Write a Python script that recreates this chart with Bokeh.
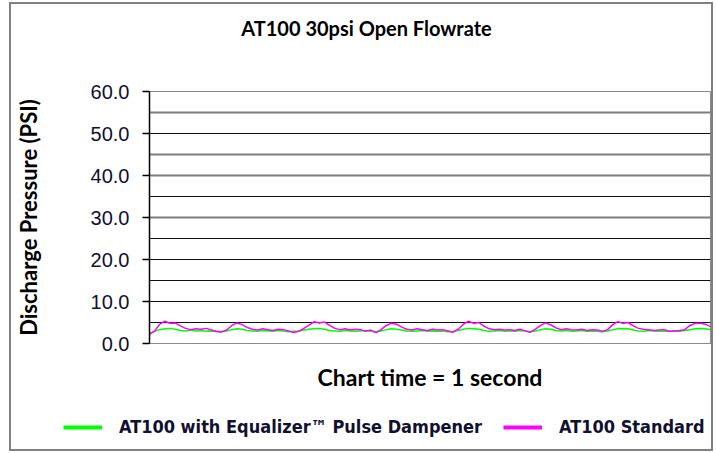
from bokeh.plotting import figure
from bokeh.layouts import column
from bokeh.models import (Range1d, FixedTicker, Legend, LegendItem, Label,
                          Grid, NumeralTickFormatter)
from bokeh.embed import file_html
from bokeh.resources import INLINE

title_text = "AT100 30psi Open Flowrate"
y_label = "Discharge Pressure (PSI)"
x_label = "Chart time = 1 second"
series_names = ["AT100 with Equalizer\u2122 Pulse Dampener", "AT100 Standard"]

y_ticks = [0, 10, 20, 30, 40, 50, 60]
grid_dark = [5, 10, 15, 20, 25, 35, 50]
grid_gray = [30, 40, 45, 55]

equalizer = [2.4, 2.9, 3.3, 3.5, 3.6, 3.4, 3.1, 3.0, 3.2, 3.0, 3.1, 2.9, 3.0, 2.8, 2.9,
             3.0, 3.3, 3.5, 3.4, 3.1, 3.0, 2.9, 3.1, 3.0, 2.9, 3.1, 3.0, 2.8, 2.9, 3.0,
             3.2, 3.4, 3.5, 3.6, 3.4, 3.1, 3.0, 2.9, 3.1, 3.0, 2.9, 3.0, 3.1, 2.9, 2.8,
             3.0, 3.3, 3.5, 3.4, 3.2, 3.0, 2.9, 3.0, 3.1, 2.9, 3.0, 2.9, 3.0, 2.8, 2.9,
             3.1, 3.4, 3.6, 3.5, 3.4, 3.1, 2.9, 3.0, 3.1, 2.9, 3.0, 2.9, 3.1, 3.0, 2.8,
             3.0, 3.3, 3.5, 3.4, 3.1, 3.0, 3.1, 2.9, 3.0, 3.1, 2.9, 3.0, 2.9, 2.8, 3.0,
             3.3, 3.5, 3.6, 3.5, 3.2, 3.0, 2.9, 3.1, 3.0, 2.9, 3.0, 2.9, 3.0, 2.9, 3.1,
             3.3, 3.5, 3.6, 3.5, 3.3]

standard = [2.2, 3.0, 4.6, 5.3, 4.8, 4.9, 4.2, 3.6, 3.3, 3.5, 3.4, 3.6, 3.2, 2.9, 2.7,
            3.2, 4.3, 4.9, 4.5, 3.8, 3.4, 3.2, 3.5, 3.3, 3.1, 3.4, 3.3, 3.0, 2.6, 2.9,
            3.6, 4.4, 5.2, 4.9, 5.1, 4.3, 3.6, 3.3, 3.5, 3.2, 3.4, 3.3, 2.9, 3.2, 2.6,
            3.3, 4.3, 4.8, 4.6, 3.9, 3.4, 3.2, 3.5, 3.3, 3.1, 3.4, 3.2, 3.3, 3.0, 2.7,
            3.4, 4.6, 5.3, 4.8, 5.0, 4.1, 3.5, 3.3, 3.4, 3.2, 3.3, 3.1, 3.4, 3.0, 2.7,
            3.4, 4.3, 4.9, 4.4, 3.7, 3.3, 3.5, 3.3, 3.2, 3.4, 3.1, 3.3, 3.2, 2.9, 3.3,
            4.5, 5.2, 4.8, 5.0, 4.2, 3.6, 3.4, 3.3, 3.1, 3.2, 3.3, 2.9, 3.0, 3.1, 3.3,
            4.3, 4.8, 4.8, 4.6, 4.0]

samples = list(range(len(standard)))

W, TH, H, LH = 700, 46, 350, 49
FL, FT, FB, FR = 138, 41, 57, 1


def strip(height, y_range):
    f = figure(width=W, height=height, output_backend="svg", toolbar_location=None,
               x_range=Range1d(0, len(samples) - 1), y_range=y_range,
               x_axis_location=None, y_axis_location=None,
               min_border_left=0, min_border_right=0, min_border_top=0,
               min_border_bottom=0)
    f.frame_align = False
    f.outline_line_color = None
    f.xgrid.visible = False
    f.ygrid.visible = False
    f.background_fill_color = "white"
    f.border_fill_color = "white"
    return f


# title strip
tf = strip(TH, Range1d(0, 1))
tf.add_layout(Label(x=355, y=23, x_units="screen", y_units="screen", text=title_text,
                    text_align="center", text_baseline="middle", text_font="Lato",
                    text_font_style="bold", text_font_size="20px",
                    text_color="black"))

# main chart
p = figure(width=W, height=H, output_backend="svg", toolbar_location=None,
           x_range=Range1d(0, len(samples) - 1), y_range=Range1d(0, 60),
           min_border_left=FL, min_border_top=FT, min_border_bottom=FB,
           min_border_right=FR)
p.frame_align = False
p.background_fill_color = "white"
p.border_fill_color = "white"
p.outline_line_color = "#8a8a8a"
p.outline_line_width = 1

p.xgrid.visible = False
p.ygrid.visible = False
g1 = Grid(dimension=1, ticker=FixedTicker(ticks=grid_dark),
          grid_line_color="#111111", grid_line_width=1)
g2 = Grid(dimension=1, ticker=FixedTicker(ticks=grid_gray),
          grid_line_color="#7d7d7d", grid_line_width=2)
p.add_layout(g1, "center")
p.add_layout(g2, "center")

ax = p.yaxis[0]
ax.ticker = FixedTicker(ticks=y_ticks)
ax.formatter = NumeralTickFormatter(format="0.0")
ax.major_label_text_font = "Liberation Sans"
ax.major_label_text_font_size = "20px"
ax.major_label_text_color = "#101030"
ax.major_tick_out = 7
ax.major_tick_in = 0
ax.minor_tick_out = 0
ax.minor_tick_in = 0
ax.major_tick_line_color = "black"
ax.major_tick_line_width = 1.5
ax.axis_line_color = "black"
ax.axis_line_width = 1.5
ax.major_label_standoff = 13
ax.axis_label = y_label
ax.axis_label_text_font = "Lato"
ax.axis_label_text_font_style = "bold"
ax.axis_label_text_font_size = "22px"
ax.axis_label_text_color = "black"
ax.axis_label_standoff = 46

xa = p.xaxis[0]
xa.ticker = FixedTicker(ticks=[])
xa.major_label_text_font_size = "0px"
xa.major_tick_out = 0
xa.minor_tick_out = 0
xa.axis_line_color = "#8a8a8a"
xa.axis_label = x_label
xa.axis_label_text_font = "Lato"
xa.axis_label_text_font_style = "bold"
xa.axis_label_text_font_size = "23px"
xa.axis_label_text_color = "black"
xa.axis_label_standoff = 19

p.line(samples, equalizer, line_color="#00ff00", line_width=1.5)
p.line(samples, standard, line_color="#ff00ff", line_width=1.5)

# legend strip below the chart (series drawn out of its view; only swatches show)
lg = strip(LH, Range1d(-2, -1))
l_eq = lg.line(samples, equalizer, line_color="#00ff00", line_width=4)
l_st = lg.line(samples, standard, line_color="#ff00ff", line_width=4)

legend = Legend(items=[LegendItem(label=series_names[0], renderers=[l_eq]),
                       LegendItem(label=series_names[1], renderers=[l_st])],
                orientation="horizontal", location=(52, 12),
                glyph_width=39, glyph_height=20, label_standoff=17, spacing=21,
                padding=0, margin=0, border_line_color=None,
                background_fill_alpha=0,
                label_text_font="DejaVu Sans Condensed",
                label_text_font_style="bold", label_text_font_size="18px",
                label_text_color="#101030")
lg.add_layout(legend, "center")

layout = column(tf, p, lg, spacing=0)
layout.styles = {"border": "2px solid #808080", "margin-left": "9px",
                 "margin-top": "2px"}

open("out.html", "w").write(file_html(layout, INLINE))
